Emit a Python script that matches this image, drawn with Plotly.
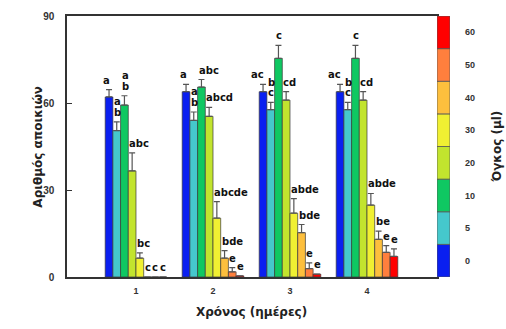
import plotly.graph_objects as go

days = [1, 2, 3, 4]
volumes = ["0", "5", "10", "20", "30", "40", "50", "60"]
colors = ["#0a1ff0", "#45c8cc", "#0fc862", "#c2e42e", "#f0f032", "#fdbf3d", "#ff7f3d", "#ff0000"]

# mean colony counts per volume (one list per volume, across days 1-4)
vol0 = [62.1, 63.9, 63.9, 63.9]
vol5 = [50.5, 54.0, 57.7, 57.7]
vol10 = [59.3, 65.5, 75.4, 75.4]
vol20 = [36.6, 55.4, 61.0, 61.0]
vol30 = [6.5, 20.3, 22.0, 24.8]
vol40 = [0, 6.5, 15.3, 13.0]
vol50 = [0, 1.8, 2.9, 8.5]
vol60 = [0, 0.4, 1.0, 7.1]

err0 = [2.5, 2.5, 2.5, 2.5]
err5 = [3.0, 2.9, 2.5, 2.5]
err10 = [3.2, 2.6, 4.5, 4.5]
err20 = [6.2, 3.1, 2.9, 2.9]
err30 = [1.8, 5.7, 5.0, 4.0]
err40 = [0, 2.6, 2.8, 2.8]
err50 = [0, 1.4, 2.0, 2.3]
err60 = [0, 0, 0, 2.6]

# significance letters ("/" = stacked on two lines, upper first)
lab0 = ["a", "a", "ac", "ac"]
lab5 = ["a/b", "a/b", "b/c", "b/c"]
lab10 = ["a/b", "abc", "c", "c"]
lab20 = ["abc", "abcd", "cd", "cd"]
lab30 = ["bc", "abcde", "abde", "abde"]
lab40 = ["c", "bde", "bde", "be"]
lab50 = ["c", "e", "e", "e"]
lab60 = ["c", "e", "e", "e"]

y_ticks = [0, 30, 60, 90]

values = [vol0, vol5, vol10, vol20, vol30, vol40, vol50, vol60]
errors = [err0, err5, err10, err20, err30, err40, err50, err60]
labels = [lab0, lab5, lab10, lab20, lab30, lab40, lab50, lab60]

FONT = "Arial, 'Liberation Sans', sans-serif"
WIDE = "'DejaVu Sans', Verdana, sans-serif"
AX = "#333333"

fig = go.Figure()
for i, (name, col) in enumerate(zip(volumes, colors)):
    fig.add_trace(go.Bar(
        x=days, y=values[i], name=name,
        marker=dict(color=col, line=dict(color="#3a3a3a", width=0.7)),
        error_y=dict(type="data", array=errors[i], arrayminus=[0] * 4, symmetric=False,
                     color="#555555", thickness=1.2, width=3),
        showlegend=False,
    ))

n = len(volumes)
bw = 0.8 / n
annotations = []
for i in range(n):
    for j, d in enumerate(days):
        xl = d + (i - n / 2) * bw
        ytop = values[i][j] + errors[i][j]
        parts = labels[i][j].split("/")
        # first bar of each group: letters end at the bar's right edge; others start at its left edge
        ax_x, anchor = (xl + bw, "right") if i == 0 else (xl, "left")
        for k, txt in enumerate(reversed(parts)):
            annotations.append(dict(
                x=ax_x, y=ytop, xref="x", yref="y", text="<b>%s</b>" % txt,
                showarrow=False, xanchor=anchor, yanchor="bottom",
                xshift=-1, yshift=2 + 10.5 * k,
                font=dict(family=WIDE, size=10, color="#111111"),
            ))

# colour key drawn as a stacked column
fig.add_trace(go.Bar(
    x=[0.5] * n, y=[1] * n, base=list(range(n)), width=1,
    marker=dict(color=colors, line=dict(color="#555555", width=0.8)),
    xaxis="x2", yaxis="y2", showlegend=False, hoverinfo="skip",
))

# axis titles
annotations.append(dict(x=-0.078, y=0.5, xref="paper", yref="paper", xanchor="center", yanchor="middle",
                        text="<b>Αριθμός αποικιών</b>", textangle=-90, showarrow=False,
                        font=dict(family=WIDE, size=12, color="#222222")))
annotations.append(dict(x=1.1227, y=0.5, xref="paper", yref="paper", xanchor="center", yanchor="middle",
                        text="<b>Όγκος (μl)</b>", textangle=-90, showarrow=False,
                        font=dict(family=WIDE, size=12, color="#222222")))
annotations.append(dict(x=0.4830, y=-0.135, xref="paper", yref="paper", xanchor="center", yanchor="middle",
                        text="<b>Χρόνος (ημέρες)</b>", showarrow=False,
                        font=dict(family=WIDE, size=12, color="#222222")))

dom = 370 / 383
fig.update_layout(
    width=506, height=329,
    margin=dict(l=67, r=56, t=10, b=52),
    paper_bgcolor="white", plot_bgcolor="white",
    barmode="group", bargap=0.2, bargroupgap=0,
    annotations=annotations,
    xaxis=dict(domain=[0, dom], range=[0.104, 4.909], tickvals=days,
               ticktext=["<b>%d</b>" % d for d in days], ticks="", showgrid=False, zeroline=False,
               showline=True, mirror=True, linecolor=AX, linewidth=1.5,
               tickfont=dict(family=FONT, size=9, color="#333333"), ticklabelstandoff=4),
    yaxis=dict(range=[0, 90], tickvals=y_ticks, ticktext=["<b>%d</b>" % t for t in y_ticks],
               ticks="inside", ticklen=5, tickcolor=AX, ticklabeloverflow="allow",
               showgrid=False, zeroline=False, showline=True, mirror=True,
               linecolor=AX, linewidth=1.5,
               tickfont=dict(family=FONT, size=10, color="#333333"), ticklabelstandoff=9),
    xaxis2=dict(domain=[dom, 1], range=[0, 1], anchor="y2", visible=False, fixedrange=True),
    yaxis2=dict(domain=[0, 1], range=[0, n], anchor="x2", side="right",
                tickvals=[k + 0.5 for k in range(n)], ticktext=["<b>%s</b>" % v for v in volumes],
                ticks="", showgrid=False, zeroline=False, showline=False,
                tickfont=dict(family=FONT, size=9, color="#333333"), ticklabelstandoff=14),
)

# remove the default 8px page margin so the figure sits at the window origin
fig.write_html("out.html", config={"displayModeBar": False},
               post_script="document.body.style.margin='0';")
